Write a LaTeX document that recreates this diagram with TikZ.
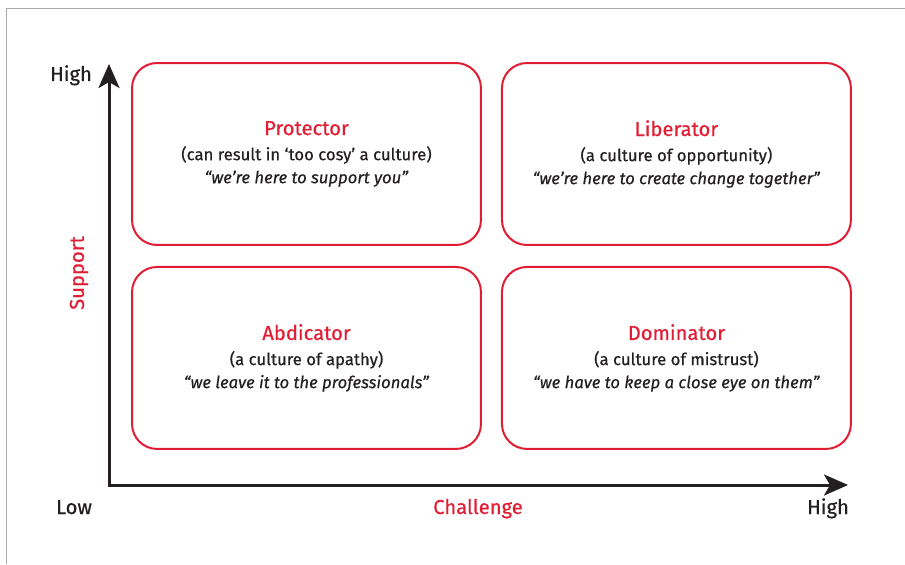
\documentclass[tikz,border=0pt]{standalone}
\usepackage{fontspec}
\setmainfont{Fira Sans}[FakeBold=0.5,AutoFakeBold=0.5]
\usetikzlibrary{arrows.meta,positioning}

\definecolor{quadred}{RGB}{225,29,52}
\definecolor{inkgray}{RGB}{35,31,32}
\definecolor{framegray}{RGB}{170,170,170}

\tikzset{
  quadrant/.style={draw=quadred, line width=0.04cm, rounded corners=0.5cm,
    minimum width=6.98cm, minimum height=3.64cm, inner sep=0pt,
    align=center, text=inkgray, font=\fontsize{9.5}{13.1}\selectfont},
  axislabel/.style={text=inkgray, font=\fontsize{11.5}{14}\selectfont, anchor=base},
  axis/.style={line width=0.06cm, draw=inkgray, line cap=rect,
    -{Stealth[length=0.48cm,width=0.42cm,inset=0.12cm]}},
}
\newcommand{\quadtitle}[1]{{\color{quadred}\fontsize{11.5}{14}\selectfont #1}\\[1.2pt]}

\begin{document}
\begin{tikzpicture}[x=0.02cm,y=-0.02cm]
    \useasboundingbox (0,0) rectangle (905,564);

    % frame round the figure
    \draw [framegray, line width=0.02cm] (6.5,564) -- (6.5,8.5) -- (905,8.5);%

    % the four quadrants
    \node [quadrant] (protector) at (306.5,154)
      {\quadtitle{Protector}(can result in `too cosy' a culture)\\\textit{``we're here to support you''}};%
    \node [quadrant, right=0.38cm of protector] (liberator)
      {\quadtitle{Liberator}(a culture of opportunity)\\\textit{``we're here to create change together''}};%
    \node [quadrant, below=0.40cm of protector] (abdicator)
      {\quadtitle{Abdicator}(a culture of apathy)\\\textit{``we leave it to the professionals''}};%
    \node [quadrant, below=0.40cm of liberator] (dominator)
      {\quadtitle{Dominator}(a culture of mistrust)\\\textit{``we have to keep a close eye on them''}};%

    % axes
    \coordinate (origin) at (109,485);%
    \coordinate (supporttip) at (109,64);%
    \coordinate (challengetip) at (848,485);%
    \draw [axis] (origin) -- (supporttip);%
    \draw [axis] (origin) -- (challengetip);%

    % axis labels
    \node [axislabel] (supporthigh) at (71,81) {High};%
    \node [axislabel] (challengelow) at (74,514) {Low};%
    \node [axislabel] (challengehigh) at (828,514) {High};%
    \node [axislabel, text=quadred] (challenge) at (478,514) {Challenge};%
    \node [axislabel, text=quadred, anchor=center, rotate=90] (support) at (79,273) {Support};%
\end{tikzpicture}
\end{document}
